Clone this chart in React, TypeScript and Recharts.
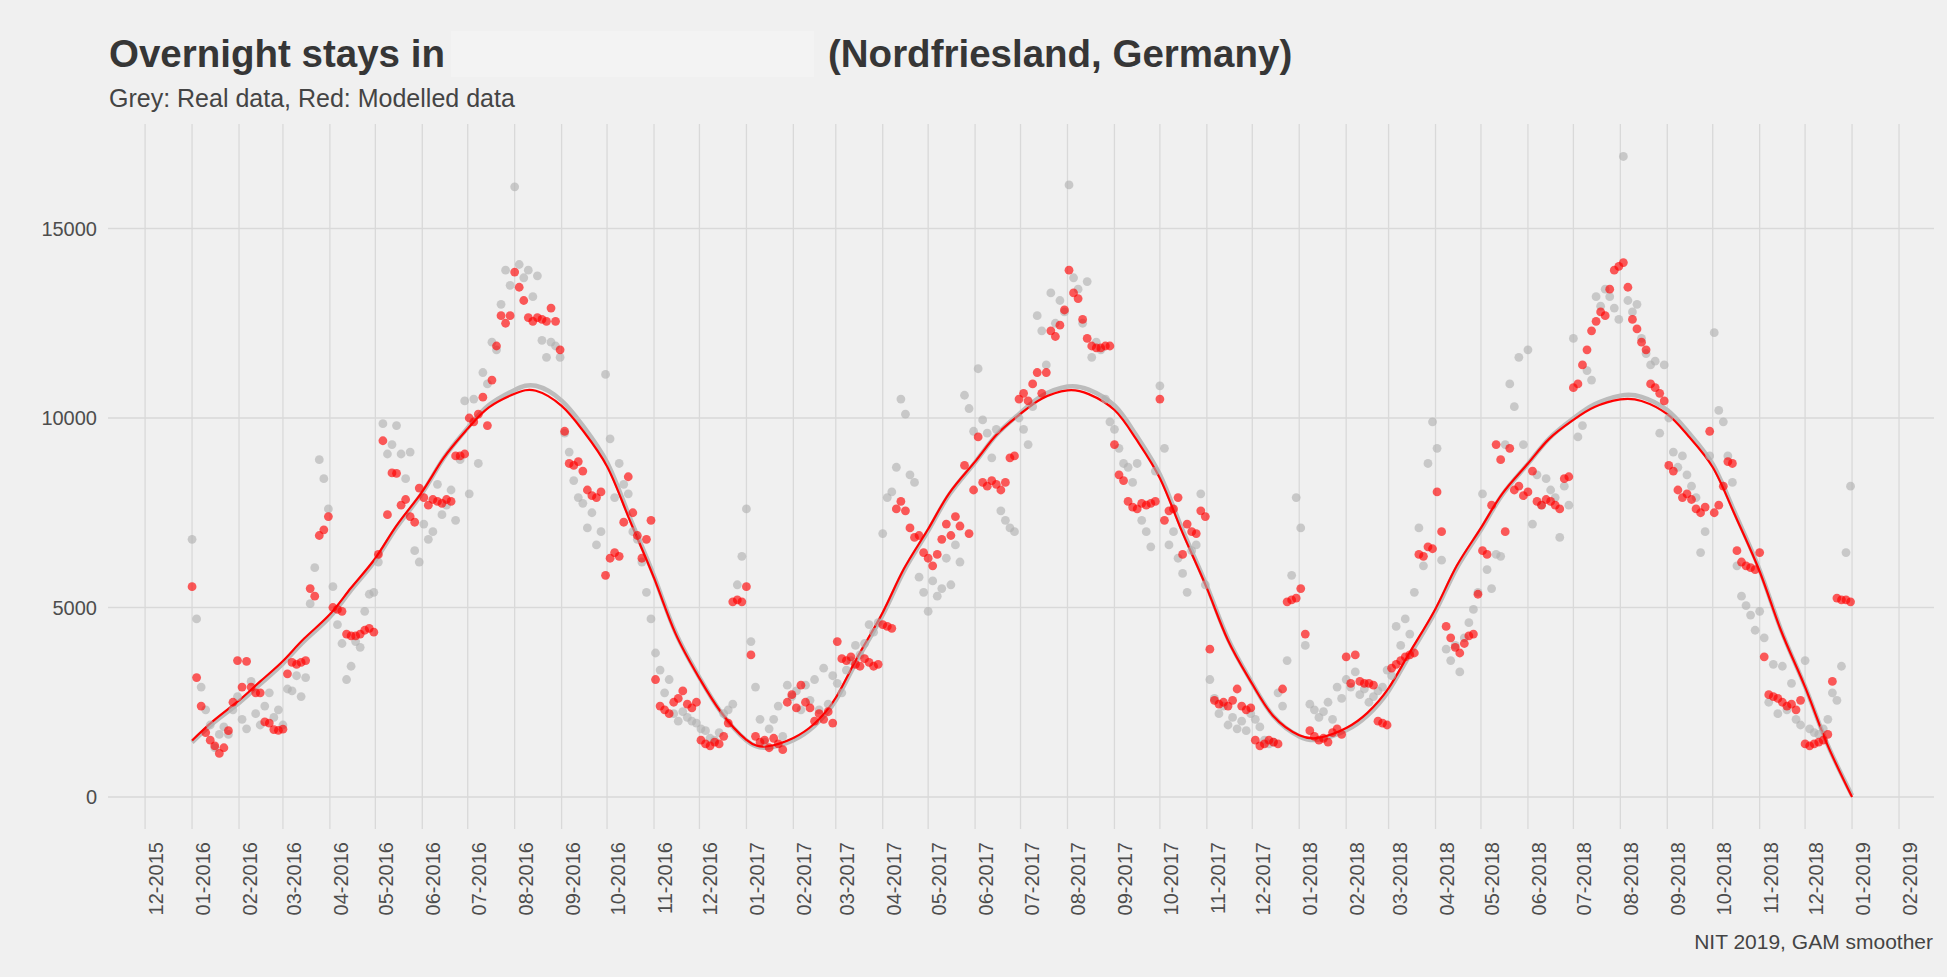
import React from 'react';
import { ComposedChart, Scatter, Line, XAxis, YAxis, ReferenceLine } from 'recharts';

document.body.style.margin = '0';
document.body.style.background = '#f0f0f0';

const FONT = '"Liberation Sans", Arial, sans-serif';
const START = Date.UTC(2016, 0, 1);
const DAY = 86400000;
// one value every 3 days, starting 01-01-2016
const STEP_DAYS = 3;

const monthTicks = [
  '12-2015',
  '01-2016', '02-2016', '03-2016', '04-2016', '05-2016', '06-2016',
  '07-2016', '08-2016', '09-2016', '10-2016', '11-2016', '12-2016',
  '01-2017', '02-2017', '03-2017', '04-2017', '05-2017', '06-2017',
  '07-2017', '08-2017', '09-2017', '10-2017', '11-2017', '12-2017',
  '01-2018', '02-2018', '03-2018', '04-2018', '05-2018', '06-2018',
  '07-2018', '08-2018', '09-2018', '10-2018', '11-2018', '12-2018',
  '01-2019', '02-2019',
];
const yTicks = [0, 5000, 10000, 15000];

// grey: real data
const real2016 = [
  6800, 4700, 2900, 2300, 1900, 1300, 1650, 1850, 1650, 2300,
  2650, 2050, 1800, 3050, 2200, 1900, 2400, 2750, 2100, 2300,
  1900, 2850, 2800, 3200, 2650, 3150, 5100, 6050, 8900, 8400,
  7600, 5550, 4550, 4050, 3100, 3450, 4100, 3950, 4900, 5350,
  5400, 6200, 9850, 9050, 9300, 9800, 9050, 8400, 9100, 6500,
  6200, 7200, 6800, 7000, 8250, 7450, 7700, 8100, 7300, 8900,
  10450, 8000, 10500, 8800, 11200, 10900, 12000, 11800, 13000, 13900,
  13500, 16100, 14050, 13700, 13900, 13200, 13750, 12050, 11600, 12000,
  11900, 11600, 9600, 9100, 8350, 7900, 7750, 7100, 7500, 6650,
  7000, 11150, 9450, 7900, 8800, 8250, 8000, 7000, 6800, 6200,
  5400, 4700, 3800, 3350, 2750, 3100, 2200, 2000, 2250, 2100,
  2000, 1950, 1800, 1750, 1550, 1500, 1700, 2200, 2300, 2450,
  5600, 6350,
];
const real2017 = [
  7600, 4100, 2900, 2050, 1450, 1800, 2050, 2400, 1600, 2950,
  2650, 2800, 2300, 2950, 2550, 3100, 2300, 3400, 2450, 3200,
  3000, 2750, 3350, 3600, 4000, 3750, 4050, 4550, 4350, 4600,
  6950, 7900, 8050, 8700, 10500, 10100, 8500, 8300, 5800, 5400,
  4900, 5700, 5300, 5500, 6300, 5600, 6650, 6200, 10600, 10250,
  9650, 11300, 9950, 9600, 8950, 9700, 7550, 7300, 7100, 7000,
  10000, 9700, 9300, 10300, 12700, 12300, 11400, 13300, 12500, 13100,
  12800, 16150, 13700, 13400, 12500, 13600, 11600, 12000, 11800, 10500,
  9900, 9700, 9200, 8800, 8700, 8300, 8800, 7300, 7000, 6600,
  8600, 10850, 9200, 6650, 7000, 6300, 5900, 5400, 6500, 6650,
  8000, 5600, 3100, 2600, 2200, 2400, 1900, 2100, 1800, 2000,
  1750, 2200, 2050, 1850, 1500, 1400, 1450, 2750, 2400, 3600,
  5850, 7900,
];
const real2018 = [
  7100, 4000, 2450, 2300, 2100, 2250, 2500, 2050, 2900, 2600,
  3100, 2900, 3300, 2700, 2850, 2500, 2650, 2800, 2900, 3350,
  3200, 4500, 4000, 4700, 4300, 5400, 7100, 6100, 8800, 9900,
  9200, 6250, 3900, 3600, 4000, 3300, 4200, 4600, 4950, 5400,
  8000, 6000, 5500, 6400, 6350, 9300, 10900, 10300, 11600, 9300,
  11800, 7200, 8500, 7700, 8400, 8100, 7900, 6850, 8200, 7700,
  12100, 9500, 9800, 11250, 11000, 13200, 12950, 13400, 13200, 12900,
  12600, 16900, 13100, 12800, 13000, 12100, 11700, 11400, 11500, 9600,
  11400, 10000, 9100, 8700, 9000, 8500, 8200, 7900, 6450, 7000,
  9000, 12250, 10200, 9900, 9000, 8300, 6100, 5300, 5050, 4800,
  4400, 4900, 4200, 2500, 3500, 2200, 3450, 2300, 3000, 2050,
  1900, 3600, 1800, 1700, 1650, 1800, 2050, 2750, 2550, 3450,
  6450, 8200,
];

// red: modelled data
const model2016 = [
  5550, 3150, 2400, 1700, 1500, 1350, 1150, 1300, 1750, 2500,
  3600, 2900, 3580, 2900, 2750, 2750, 1980, 1950, 1780, 1760,
  1790, 3250, 3550, 3500, 3550, 3600, 5500, 5300, 6900, 7050,
  7400, 5000, 4950, 4900, 4300, 4250, 4250, 4300, 4400, 4450,
  4350, 6400, 9400, 7450, 8550, 8540, 7700, 7850, 7400, 7250,
  8150, 7900, 7700, 7850, 7800, 7750, 7850, 7800, 9000, 9000,
  9050, 10000, 9900, 10100, 10550, 9800, 11000, 11900, 12700, 12500,
  12700, 13850, 13450, 13100, 12650, 12550, 12650, 12600, 12550, 12900,
  12550, 11800, 9650, 8800, 8750, 8850, 8600, 8100, 7950, 7900,
  8050, 5850, 6300, 6450, 6350, 7250, 8450, 7500, 6900, 6300,
  6800, 7300, 3100, 2400, 2300, 2200, 2500, 2600, 2800, 2450,
  2350, 2500, 1500, 1400, 1350, 1450, 1400, 1600, 1950, 5150,
  5200, 5150,
];
const model2017 = [
  5550, 3750, 1600, 1450, 1500, 1300, 1550, 1400, 1250, 2500,
  2700, 2350, 2950, 2500, 2350, 2000, 2200, 2050, 2250, 1950,
  4100, 3650, 3600, 3700, 3500, 3450, 3650, 3550, 3450, 3500,
  4550, 4500, 4450, 7600, 7800, 7550, 7100, 6850, 6900, 6450,
  6300, 6100, 6400, 6800, 7200, 6900, 7400, 7150, 8750, 6950,
  8100, 9500, 8300, 8200, 8350, 8250, 8100, 8300, 8950, 9000,
  10500, 10650, 10450, 10900, 11200, 10650, 11200, 12300, 12150, 12450,
  12850, 13900, 13300, 13150, 12600, 12100, 11900, 11850, 11850, 11900,
  11900, 9300, 8500, 8350, 7800, 7650, 7600, 7750, 7700, 7750,
  7800, 10500, 7300, 7550, 7600, 7900, 6400, 7200, 7000, 6950,
  7550, 7400, 3900, 2550, 2450, 2500, 2400, 2550, 2850, 2400,
  2300, 2350, 1500, 1350, 1400, 1500, 1450, 1400, 2850, 5150,
  5200, 5250,
];
const model2018 = [
  5500, 4300, 1750, 1600, 1500, 1550, 1450, 1700, 1800, 1650,
  3700, 3000, 3750, 3050, 3000, 3000, 2950, 2000, 1950, 1900,
  3400, 3500, 3600, 3700, 3750, 3800, 6400, 6350, 6600, 6550,
  8050, 7000, 4500, 4200, 3950, 3800, 4050, 4250, 4300, 5350,
  6500, 6400, 7700, 9300, 8900, 7000, 9200, 8100, 8200, 7950,
  8050, 8600, 7800, 7700, 7850, 7800, 7700, 7600, 8400, 8450,
  10800, 10900, 11400, 11800, 12300, 12550, 12800, 12700, 13400, 13900,
  14000, 14100, 13450, 12600, 12350, 12000, 11800, 10900, 10800, 10650,
  10450, 8750, 8600, 8100, 7900, 8000, 7850, 7600, 7500, 7650,
  9650, 7500, 7700, 8200, 8850, 8800, 6500, 6200, 6100, 6050,
  6000, 6450, 3700, 2700, 2650, 2600, 2500, 2400, 2450, 2300,
  2550, 1400, 1350, 1400, 1450, 1500, 1650, 3050, 5250, 5200,
  5200, 5150,
];

// GAM smoothers, values on the 1st and 15th of each month, Jan 2016 .. Jan 2019
const smoothReal = [
  1440, 1950, 2480, 2980, 3520, 4110, 4750, 5460, 6240, 7110, 8020, 8930,
  9740, 10340, 10740, 10850, 10460, 9800, 8830, 7480, 5830, 4360, 3150, 2250,
  1490, 1300, 1500, 1880, 2550, 3600, 4800, 5960, 7020, 7980, 8830, 9550,
  10140, 10580, 10830, 10750, 10330, 9570, 8510, 7140, 5570, 4170, 3000, 2130,
  1600, 1520, 1760, 2150, 2800, 3750, 4900, 6040, 7050, 7970, 8790, 9460,
  9990, 10360, 10590, 10560, 10210, 9620, 8780, 7560, 5990, 4420, 2910, 1460,
  40,
];
const smoothModel = [
  1490, 2010, 2550, 3050, 3590, 4180, 4820, 5520, 6300, 7160, 8060, 8940,
  9720, 10280, 10640, 10720, 10320, 9670, 8720, 7400, 5780, 4330, 3130, 2250,
  1510, 1340, 1560, 1940, 2620, 3670, 4870, 6020, 7070, 8020, 8850, 9550,
  10110, 10510, 10730, 10630, 10210, 9460, 8410, 7060, 5510, 4130, 2980, 2130,
  1630, 1570, 1820, 2220, 2870, 3820, 4970, 6100, 7100, 8000, 8800, 9450,
  9950, 10290, 10490, 10450, 10100, 9520, 8700, 7500, 5950, 4400, 2900, 1450,
  0,
];

const labelDay = (label: string) => {
  const [m, y] = label.split('-').map(Number);
  return (Date.UTC(y, m - 1, 1) - START) / DAY;
};
const tickDays = monthTicks.map(labelDay);
const labelOf = new Map(tickDays.map((d, i) => [d, monthTicks[i]]));

const toPoints = (values: number[]) => values.map((v, i) => ({ t: i * STEP_DAYS, v }));
const realPoints = toPoints([...real2016, ...real2017, ...real2018]);
const modelPoints = toPoints([...model2016, ...model2017, ...model2018]);

const halfMonthDay = (i: number) =>
  (Date.UTC(2016, Math.floor(i / 2), i % 2 === 0 ? 1 : 15) - START) / DAY;
const smoothRealPoints = smoothReal.map((v, i) => ({ t: halfMonthDay(i), v }));
const smoothModelPoints = smoothModel.map((v, i) => ({ t: halfMonthDay(i), v }));

const dot = (fill: string, opacity: number) => (props: any) =>
  <circle cx={props.cx} cy={props.cy} r={4.4} fill={fill} fillOpacity={opacity} />;

const XTick = (props: any) => {
  const { x, y, payload } = props;
  return (
    <text x={x} y={y} dy={18} transform={`rotate(-90 ${x} ${y})`} textAnchor="end"
      fontSize={20} fontFamily={FONT} fill="#4d4d4d">
      {labelOf.get(payload.value) ?? ''}
    </text>
  );
};

const YTick = (props: any) => {
  const { x, y, payload } = props;
  return (
    <text x={x} y={y} dy="0.36em" textAnchor="end" fontSize={20} fontFamily={FONT} fill="#4d4d4d">
      {payload.value}
    </text>
  );
};

const GRID = '#d9d9d9';

export default function App() {
  return (
    <div style={{ position: 'relative', width: 1947, height: 977, background: '#f0f0f0' }}>
      <ComposedChart width={1947} height={977} margin={{ top: 124, right: 13, bottom: 28, left: 8 }}>
        <XAxis type="number" dataKey="t" domain={[-55.5, 1150.1]} ticks={tickDays} interval={0}
          allowDataOverflow axisLine={false} tickLine={false} tickSize={0} tickMargin={13}
          height={120} tick={<XTick />} />
        <YAxis type="number" dataKey="v" domain={[-844, 17757]} ticks={yTicks} interval={0}
          allowDataOverflow axisLine={false} tickLine={false} tickSize={0} tickMargin={11}
          width={100} tick={<YTick />} />
        {yTicks.map((t) => (
          <ReferenceLine key={`h${t}`} y={t} stroke={GRID} strokeWidth={1.3} />
        ))}
        {tickDays.map((t) => (
          <ReferenceLine key={`v${t}`} x={t} stroke={GRID} strokeWidth={1.3} />
        ))}
        <Scatter data={realPoints} shape={dot('#b0b0b0', 0.62)} isAnimationActive={false} />
        <Line data={smoothRealPoints} dataKey="v" type="natural" stroke="#bcbcbc" strokeWidth={4.5}
          dot={false} isAnimationActive={false} />
        <Scatter data={modelPoints} shape={dot('#ff0000', 0.64)} isAnimationActive={false} />
        <Line data={smoothModelPoints} dataKey="v" type="natural" stroke="#ff0000" strokeWidth={2.2}
          dot={false} isAnimationActive={false} />
      </ComposedChart>
      <svg width={1947} height={977} style={{ position: 'absolute', left: 0, top: 0, pointerEvents: 'none' }}>
        <rect x={451} y={31} width={363} height={46} fill="#f3f3f3" />
        <text x={109} y={67} fontSize={38.5} fontWeight="bold" fontFamily={FONT} fill="#363636">
          Overnight stays in
        </text>
        <text x={828} y={67} fontSize={38.5} fontWeight="bold" fontFamily={FONT} fill="#363636">
          (Nordfriesland, Germany)
        </text>
        <text x={109} y={107} fontSize={25} fontFamily={FONT} fill="#444444">
          Grey: Real data, Red: Modelled data
        </text>
        <text x={1933} y={949} fontSize={21} textAnchor="end" fontFamily={FONT} fill="#444444">
          NIT 2019, GAM smoother
        </text>
      </svg>
    </div>
  );
}
